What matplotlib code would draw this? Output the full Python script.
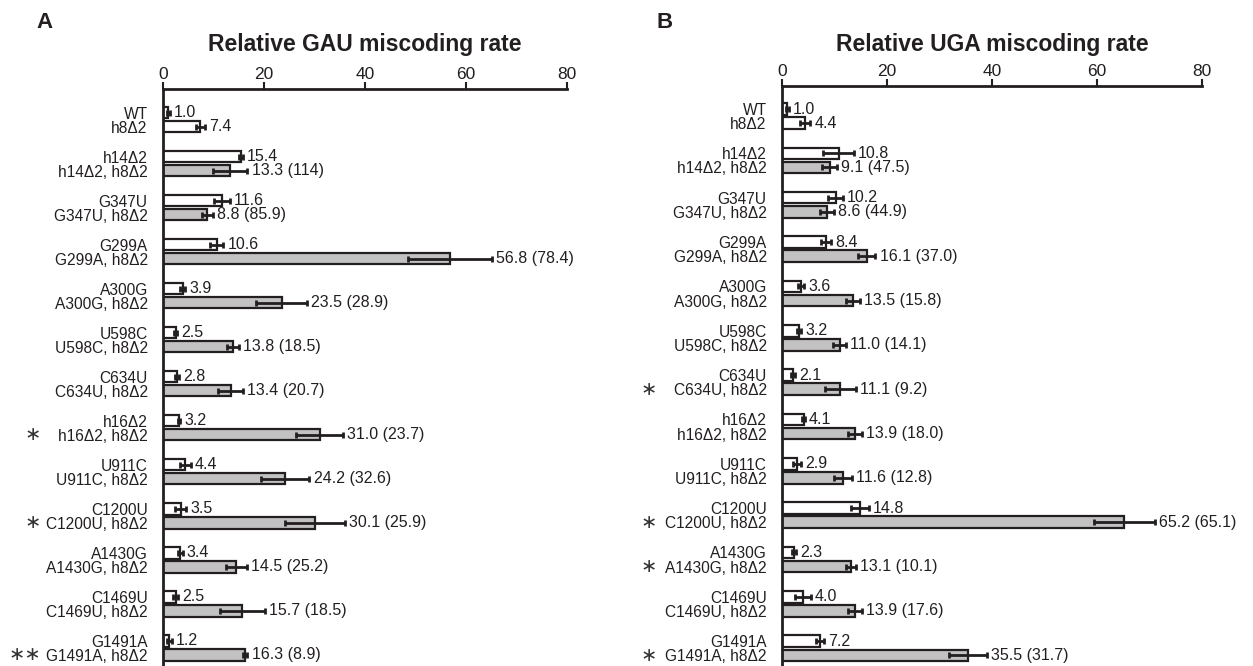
import matplotlib
matplotlib.use("Agg")
import matplotlib.pyplot as plt
import numpy as np

plt.rcParams['font.family'] = ['Liberation Sans', 'DejaVu Sans']

groups = ["WT", "h14Δ2", "G347U", "G299A", "A300G", "U598C", "C634U", "h16Δ2",
          "U911C", "C1200U", "A1430G", "C1469U", "G1491A"]
second_labels = ["h8Δ2"] + [g + ", h8Δ2" for g in groups[1:]]

gau_single = [1.0, 15.4, 11.6, 10.6, 3.9, 2.5, 2.8, 3.2, 4.4, 3.5, 3.4, 2.5, 1.2]
gau_single_err = [0.3, 0.4, 1.6, 1.3, 0.5, 0.3, 0.4, 0.2, 1.1, 1.1, 0.5, 0.5, 0.5]
gau_double = [7.4, 13.3, 8.8, 56.8, 23.5, 13.8, 13.4, 31.0, 24.2, 30.1, 14.5, 15.7, 16.3]
gau_double_err = [0.9, 3.4, 1.1, 8.3, 5.0, 1.2, 2.5, 4.7, 4.8, 5.9, 2.1, 4.4, 0.4]
gau_paren = [None, "114", "85.9", "78.4", "28.9", "18.5", "20.7", "23.7", "32.6",
             "25.9", "25.2", "18.5", "8.9"]
gau_stars = {7: "∗", 9: "∗", 12: "∗∗"}

uga_single = [1.0, 10.8, 10.2, 8.4, 3.6, 3.2, 2.1, 4.1, 2.9, 14.8, 2.3, 4.0, 7.2]
uga_single_err = [0.3, 2.9, 1.4, 0.9, 0.6, 0.4, 0.3, 0.2, 0.8, 1.7, 0.4, 1.5, 0.8]
uga_double = [4.4, 9.1, 8.6, 16.1, 13.5, 11.0, 11.1, 13.9, 11.6, 65.2, 13.1, 13.9, 35.5]
uga_double_err = [1.0, 1.4, 1.3, 1.7, 1.4, 1.2, 3.0, 1.4, 1.7, 5.8, 1.0, 1.4, 3.6]
uga_paren = [None, "47.5", "44.9", "37.0", "15.8", "14.1", "9.2", "18.0", "12.8",
             "65.1", "10.1", "17.6", "31.7"]
uga_stars = {6: "∗", 9: "∗", 10: "∗", 12: "∗"}

xticks = [0, 20, 40, 60, 80]

fig = plt.figure(figsize=(12.53, 6.66), dpi=100)

GREY = "#c2c2c2"
INK = "#231f20"
d = 0.318
bh = 0.26


def panel(rect, title, title_y, letter, letter_x, single, serr, double, derr, paren,
          stars, ylim, star_x):
    ax = fig.add_axes(rect)
    n = len(groups)
    y1 = np.arange(n)
    y2 = y1 + d
    cols2 = ["white"] + [GREY] * (n - 1)
    ekw = dict(elinewidth=2, capthick=2, ecolor=INK)
    ax.barh(y1, single, height=bh, color="white", edgecolor=INK, linewidth=1.6,
            xerr=serr, capsize=2.5, error_kw=ekw)
    ax.barh(y2, double, height=bh, color=cols2, edgecolor=INK, linewidth=1.6,
            xerr=derr, capsize=2.5, error_kw=ekw)
    for i in range(n):
        ax.annotate(f"{single[i]:.1f}", (single[i] + serr[i], y1[i]), xytext=(3, 0),
                    textcoords="offset points", va="center", ha="left", fontsize=11.5,
                    color=INK)
        lab = f"{double[i]:.1f}" + (f" ({paren[i]})" if paren[i] else "")
        ax.annotate(lab, (double[i] + derr[i], y2[i]), xytext=(3, 0),
                    textcoords="offset points", va="center", ha="left", fontsize=11.5,
                    color=INK)
    ticks = []
    labels = []
    for i in range(n):
        ticks += [y1[i], y2[i]]
        labels += [groups[i], second_labels[i]]
    ax.set_yticks(ticks)
    ax.set_yticklabels(labels, fontsize=11.2, color=INK, linespacing=1.0)
    ax.tick_params(axis="y", length=0, pad=11)
    ax.set_ylim(*ylim)
    ax.set_xlim(0, 80)
    ax.xaxis.tick_top()
    ax.set_xticks(xticks)
    ax.set_xticklabels([str(t) for t in xticks], fontsize=12.5, color=INK)
    ax.tick_params(axis="x", length=5, width=1.5, pad=0, color=INK)
    for s in ["right", "bottom"]:
        ax.spines[s].set_visible(False)
    for s in ["left", "top"]:
        ax.spines[s].set_linewidth(2)
        ax.spines[s].set_color(INK)
    cx = rect[0] + rect[2] / 2
    fig.text(cx, title_y, title, fontsize=16.5, fontweight="bold", color=INK,
             ha="center", va="center")
    fig.text(letter_x, 1 - 22 / 666, letter, fontsize=16, fontweight="bold",
             va="center", ha="left", color=INK)
    for i, s in stars.items():
        fig_y = ax.transData.transform((0, y2[i]))[1] / fig.bbox.height
        fig.text(star_x, fig_y, s, fontsize=14, va="center", ha="right",
                 family="DejaVu Sans", color="#333333")
    return ax


panel([163 / 1253, 0.0, 404 / 1253, 1 - 89 / 666], "Relative GAU miscoding rate",
      1 - 45 / 666, "A", 36 / 1253, gau_single, gau_single_err, gau_double,
      gau_double_err, gau_paren, gau_stars, (12.57, -0.534), 41 / 1253)
panel([782 / 1253, 0.0, 420 / 1253, 1 - 86 / 666], "Relative UGA miscoding rate",
      1 - 45 / 666, "B", 656 / 1253, uga_single, uga_single_err, uga_double,
      uga_double_err, uga_paren, uga_stars, (12.56, -0.519), 657 / 1253)

fig.savefig("out.png", dpi=100)
